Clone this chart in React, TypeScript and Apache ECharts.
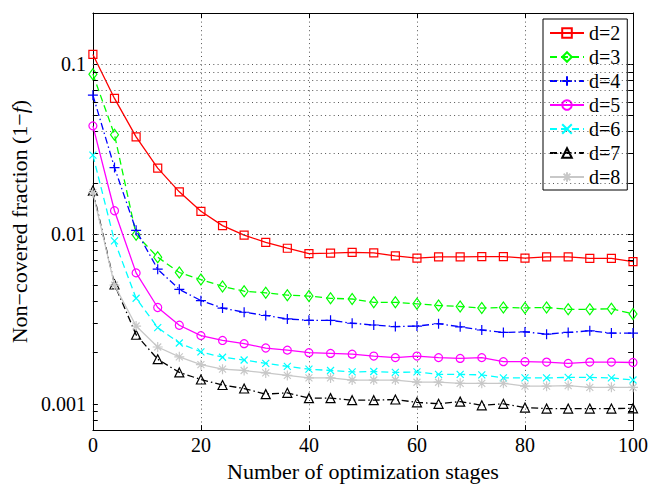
import React, { useEffect, useRef } from 'react';
import * as echarts from 'echarts';

const stages = [0, 4, 8, 12, 16, 20, 24, 28, 32, 36, 40, 44, 48, 52, 56, 60, 64, 68, 72, 76, 80, 84, 88, 92, 96, 100];

const d2 = [0.114, 0.0628, 0.0373, 0.0244, 0.0177, 0.0136, 0.0112, 0.00984, 0.00893, 0.00824, 0.00765, 0.00772, 0.0078, 0.00773, 0.00743, 0.0072, 0.00733, 0.00733, 0.00736, 0.00736, 0.0072, 0.00733, 0.00733, 0.00718, 0.00718, 0.00688];
const d3 = [0.0873, 0.0384, 0.0099, 0.0073, 0.00593, 0.00539, 0.00491, 0.0046, 0.0045, 0.00436, 0.00431, 0.00418, 0.00414, 0.00396, 0.00396, 0.00388, 0.00379, 0.00374, 0.00366, 0.00369, 0.00367, 0.00369, 0.0036, 0.0036, 0.00363, 0.00338];
const d4 = [0.0656, 0.0246, 0.0105, 0.0062, 0.00472, 0.00405, 0.00366, 0.00346, 0.00331, 0.00316, 0.0031, 0.0031, 0.00298, 0.00291, 0.00285, 0.00287, 0.00296, 0.00284, 0.00272, 0.00263, 0.00265, 0.00257, 0.00263, 0.00269, 0.00261, 0.00261];
const d5 = [0.0433, 0.0137, 0.0059, 0.00369, 0.0029, 0.00252, 0.00236, 0.00226, 0.00213, 0.00207, 0.002, 0.00198, 0.00196, 0.00191, 0.00187, 0.00191, 0.00187, 0.00185, 0.00187, 0.00177, 0.00177, 0.00176, 0.00173, 0.00176, 0.00176, 0.00175];
const d6 = [0.0291, 0.0091, 0.00418, 0.00281, 0.00228, 0.00202, 0.00188, 0.00181, 0.00173, 0.00166, 0.0016, 0.00157, 0.00154, 0.00155, 0.00153, 0.00154, 0.00149, 0.00149, 0.00148, 0.00142, 0.00142, 0.00142, 0.00143, 0.00143, 0.00142, 0.00138];
const d7 = [0.018, 0.00505, 0.00255, 0.00183, 0.00153, 0.00139, 0.00129, 0.00123, 0.00114, 0.00116, 0.00108, 0.00108, 0.00105, 0.00105, 0.00106, 0.00102, 0.001, 0.00103, 0.00098, 0.001, 0.00095, 0.000937, 0.000937, 0.000937, 0.000937, 0.00094];
const d8 = [0.0175, 0.005, 0.00287, 0.00216, 0.00189, 0.0017, 0.0016, 0.00157, 0.00152, 0.00147, 0.00142, 0.00142, 0.00138, 0.00138, 0.00138, 0.00134, 0.00134, 0.00132, 0.00132, 0.00132, 0.00127, 0.00127, 0.00128, 0.00125, 0.00125, 0.00125];

const seriesNames = ['d=2', 'd=3', 'd=4', 'd=5', 'd=6', 'd=7', 'd=8'];
const seriesValues = [d2, d3, d4, d5, d6, d7, d8];

const majorY = [0.001, 0.01, 0.1];
const majorYLabels = ['0.001', '0.01', '0.1'];
const minorY = [0.0008, 0.0009, 0.002, 0.003, 0.004, 0.005, 0.006, 0.007, 0.008, 0.009, 0.02, 0.03, 0.04, 0.05, 0.06, 0.07, 0.08, 0.09];

const X_MIN = 0;
const X_MAX = 100;
const Y_MIN = 0.0007;
const Y_MAX = 0.2;

const FONT = '"Liberation Serif", "Times New Roman", serif';

const colors = ['#ff0000', '#00ff00', '#0000ff', '#ff00ff', '#00ffff', '#000000', '#c8c8c8'];
const dashes: any[] = ['solid', [7, 4], [7, 3, 1.5, 3], 'solid', [7, 4], [7, 3, 1.5, 3], 'solid'];
const symbols = [
  'path://M0,0L10,0L10,10L0,10Z',
  'path://M5,0L10,5L5,10L0,5Z',
  'path://M5,0L5,10M0,5L10,5',
  'circle',
  'path://M0,0L10,10M10,0L0,10',
  'triangle',
  'path://M5,0L5,10M0,5L10,5M1.5,1.5L8.5,8.5M8.5,1.5L1.5,8.5',
];
const symbolSizes: any[] = [8, [8, 11], 10, 8, 7, 9, 10];

export default function App() {
  const ref = useRef<HTMLDivElement>(null);

  useEffect(() => {
    if (!ref.current) return;
    const chart = echarts.init(ref.current, undefined, { renderer: 'svg' });

    const dataSeries = seriesNames.map((name, k) => ({
      name,
      type: 'line',
      data: stages.map((x, i) => [x, seriesValues[k][i]]),
      symbol: symbols[k],
      symbolSize: symbolSizes[k],
      showAllSymbol: true,
      lineStyle: { color: colors[k], width: 1.3, type: dashes[k] },
      itemStyle: { color: 'rgba(0,0,0,0)', borderColor: colors[k], borderWidth: 1.2 },
      emphasis: { disabled: true },
      z: 3 + k,
    }));

    const gridSeries = {
      type: 'line',
      data: [],
      silent: true,
      z: 1,
      markLine: {
        silent: true,
        symbol: 'none',
        animation: false,
        label: { show: false },
        lineStyle: { color: '#555', width: 1, type: [1, 3.3] },
        data: [...majorY, ...minorY].map((v) => ({ yAxis: v })),
      },
    };

    const tickLen = 0.9;
    const minorTickSeries = {
      type: 'line',
      data: [],
      silent: true,
      z: 2,
      markLine: {
        silent: true,
        symbol: 'none',
        animation: false,
        label: { show: false },
        lineStyle: { color: '#000', width: 1, type: 'solid' },
        data: [
          ...minorY.map((v) => [{ coord: [X_MIN, v] }, { coord: [X_MIN + tickLen, v] }]),
          ...minorY.map((v) => [{ coord: [X_MAX - tickLen, v] }, { coord: [X_MAX, v] }]),
        ],
      },
    };

    const axisLine = { show: true, onZero: false, lineStyle: { color: '#000', width: 1 } };

    chart.setOption({
      animation: false,
      backgroundColor: '#fff',
      grid: { left: 88, right: 29, top: 13, bottom: 45, containLabel: false },
      legend: {
        data: seriesNames,
        orient: 'vertical',
        left: 543,
        top: 19,
        padding: [4, 7, 3, 6],
        itemWidth: 34,
        itemHeight: 12,
        itemGap: 4,
        backgroundColor: '#fff',
        borderColor: '#000',
        borderWidth: 1,
        borderRadius: 0,
        selectedMode: false,
        textStyle: { fontFamily: FONT, fontSize: 20, color: '#000' },
      },
      xAxis: [
        {
          type: 'value',
          min: X_MIN,
          max: X_MAX,
          interval: 20,
          name: 'Number of optimization stages',
          nameLocation: 'middle',
          nameGap: 18,
          nameTextStyle: { fontFamily: FONT, fontSize: 22, color: '#000' },
          axisLine,
          axisTick: { show: true, inside: true, length: 5, lineStyle: { color: '#000' } },
          axisLabel: { fontFamily: FONT, fontSize: 20, color: '#000', margin: 5 },
          splitLine: { show: true, lineStyle: { color: '#555', width: 1, type: [1, 3.3] } },
        },
        {
          type: 'value',
          position: 'top',
          min: X_MIN,
          max: X_MAX,
          interval: 20,
          axisLine,
          axisTick: { show: true, inside: true, length: 5, lineStyle: { color: '#000' } },
          axisLabel: { show: false },
          splitLine: { show: false },
        },
      ],
      yAxis: [
        {
          type: 'log',
          logBase: 10,
          min: Y_MIN,
          max: Y_MAX,
          name: 'Non\u2212covered fraction (1\u2212{i|f})',
          nameLocation: 'middle',
          nameGap: 59,
          nameTextStyle: {
            fontFamily: FONT,
            fontSize: 22,
            color: '#000',
            rich: { i: { fontFamily: FONT, fontSize: 22, fontStyle: 'italic', color: '#000' } },
          },
          axisLine,
          axisTick: { show: true, inside: true, length: 5, lineStyle: { color: '#000' } },
          axisLabel: {
            fontFamily: FONT,
            fontSize: 20,
            color: '#000',
            margin: 7,
            showMinLabel: false,
            showMaxLabel: false,
            formatter: (v: number) => {
              for (let i = 0; i < majorY.length; i++) {
                if (Math.abs(v - majorY[i]) / majorY[i] < 1e-6) return majorYLabels[i];
              }
              return '';
            },
          },
          splitLine: { show: false },
        },
        {
          type: 'log',
          logBase: 10,
          position: 'right',
          min: Y_MIN,
          max: Y_MAX,
          axisLine,
          axisTick: { show: true, inside: true, length: 5, lineStyle: { color: '#000' } },
          axisLabel: { show: false },
          splitLine: { show: false },
        },
      ],
      series: [gridSeries, minorTickSeries, ...dataSeries],
    });

    return () => chart.dispose();
  }, []);

  return (
    <div
      ref={ref}
      style={{ position: 'absolute', left: 0, top: 0, width: 662, height: 487 }}
    />
  );
}
